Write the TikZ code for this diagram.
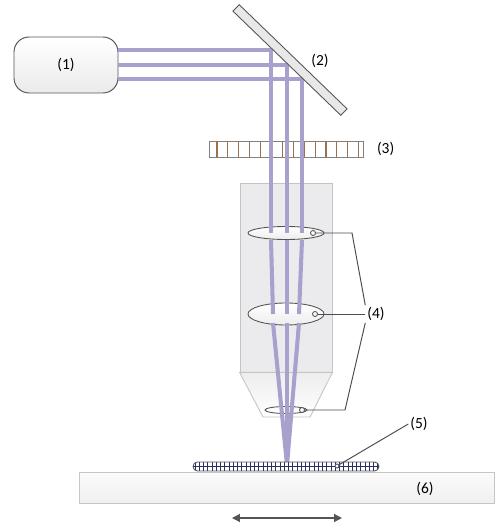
\documentclass[tikz,border=0pt]{standalone}
\usepackage{fontspec}
\setmainfont{Carlito}
\usetikzlibrary{positioning,arrows.meta,shapes.geometric}
\definecolor{beam}{HTML}{A9A1CD}
\definecolor{edge}{HTML}{555555}
\definecolor{bodyfill}{HTML}{EBEBED}
\definecolor{bodyedge}{HTML}{C4C4C4}
\definecolor{gridline}{HTML}{2E2E66}
\definecolor{slit}{HTML}{9C7048}

\begin{document}
\begin{tikzpicture}[x=0.02cm, y=-0.02cm, font=\fontsize{8.8}{10}\selectfont,
  ray/.style={draw=beam, line width=2.3pt},
  lead/.style={draw=edge!90!black, line width=0.55pt},
  dot/.style={circle, draw=edge, fill=white, line width=0.5pt, inner sep=0pt, minimum size=0.1cm},
  lens/.style={ellipse, draw=edge, line width=0.5pt, inner sep=0pt},
  tag/.style={inner sep=1pt}]
\useasboundingbox (0,0) rectangle (495,526);

% light source
\node[draw=edge, line width=0.55pt, rounded corners=0.3cm, top color=white, bottom color=gray!16,
      minimum width=2.08cm, minimum height=1.12cm] (laser) at (66,65) {(1)};

% mask with slits
\node[draw=gray, fill=white, line width=0.5pt, minimum width=3.08cm, minimum height=0.32cm, inner sep=0pt] (mask) at (286.5,149) {};
\foreach \i in {0,...,13}
  \draw[slit, line width=0.6pt] (217+10.9*\i,141) -- ++(0,16);
\node[tag, right=0.22cm of mask] (lblMask) {(3)};

% objective
\node[draw=bodyedge, fill=bodyfill, line width=0.5pt, minimum width=1.84cm, minimum height=3.78cm, inner sep=0pt] (objective) at (286,277.5) {};
\draw[bodyedge, line width=0.5pt, top color=gray!14, bottom color=white]
  (objective.south west) -- (objective.south east) -- (310,417) -- (263,417) -- cycle;

% lenses
\node[lens, top color=white, bottom color=gray!14, minimum width=1.52cm, minimum height=0.26cm] (lensA) at (286,233) {};
\node[lens, top color=white, bottom color=gray!14, minimum width=1.52cm, minimum height=0.44cm] (lensB) at (286,314) {};
\node[lens, minimum width=0.84cm, minimum height=0.14cm] (lensC) at (286,410) {};

% beams
\coordinate (focus) at (287,465);
\foreach \y/\x/\b in {50/271/273, 65/287/287, 79/302/299} {
  \draw[ray] (laser.east |- 0,\y) -- (\x,\y) -- (\x,233);
  \draw[ray] (\x,240) -- (\b,314);
  \draw[ray] (\b,323) -- (focus);
}

% mirror
\node[draw=edge, fill=gray!18, line width=0.5pt, minimum width=3cm, minimum height=0.18cm, inner sep=0pt, rotate=-44] (mirror) at (290,60) {};
\node[tag] (lblMirror) at (320,61) {(2)};

% lens markers and leaders
\node[dot] (dotA) at (313,233) {};
\node[dot] (dotB) at (315,314) {};
\node[dot] (dotC) at (302,410) {};
\node[tag] (lblLens) at (376,314) {(4)};
\coordinate (bendA) at (352,233);
\coordinate (bendC) at (345,410);
\draw[lead] (dotA) -- (bendA) -- (lblLens.north west);
\draw[lead] (dotB) -- (lblLens.west);
\draw[lead] (dotC) -- (bendC) -- (lblLens.south west);

% stage
\node[draw=gray!45, line width=0.5pt, top color=gray!3, bottom color=gray!12, minimum width=8.3cm, minimum height=0.62cm, inner sep=0pt] (stage) at (286.5,487.5) {};
\node[tag] (lblStage) at (425,489) {(6)};

% sample
\node[fill=white, rounded corners=0.09cm, minimum width=3.72cm, minimum height=0.18cm, inner sep=0pt] (sample) at (286,466.5) {};
\begin{scope}
  \clip[rounded corners=0.09cm] (193,462) rectangle (379,471);
  \foreach \i in {0,...,43}
    \draw[gridline, line width=0.45pt] (195+4.25*\i,462) -- ++(0,9);
  \draw[gridline, line width=0.45pt] (193,466.5) -- (379,466.5);
\end{scope}
\node[draw=edge, line width=0.5pt, rounded corners=0.09cm, minimum width=3.72cm, minimum height=0.18cm, inner sep=0pt] at (sample) {};
\node[dot, minimum size=0.08cm] (dotS) at (337,466) {};
\node[tag] (lblSample) at (419,424) {(5)};
\draw[lead] (lblSample.west) -- (dotS);

% stage travel
\coordinate (moveL) at (232,518);
\coordinate (moveR) at (342,518);
\draw[{Triangle[length=4.5pt,width=4.5pt]}-{Triangle[length=4.5pt,width=4.5pt]}, draw=edge, fill=edge, line width=0.7pt] (moveL) -- (moveR);
\end{tikzpicture}
\end{document}
